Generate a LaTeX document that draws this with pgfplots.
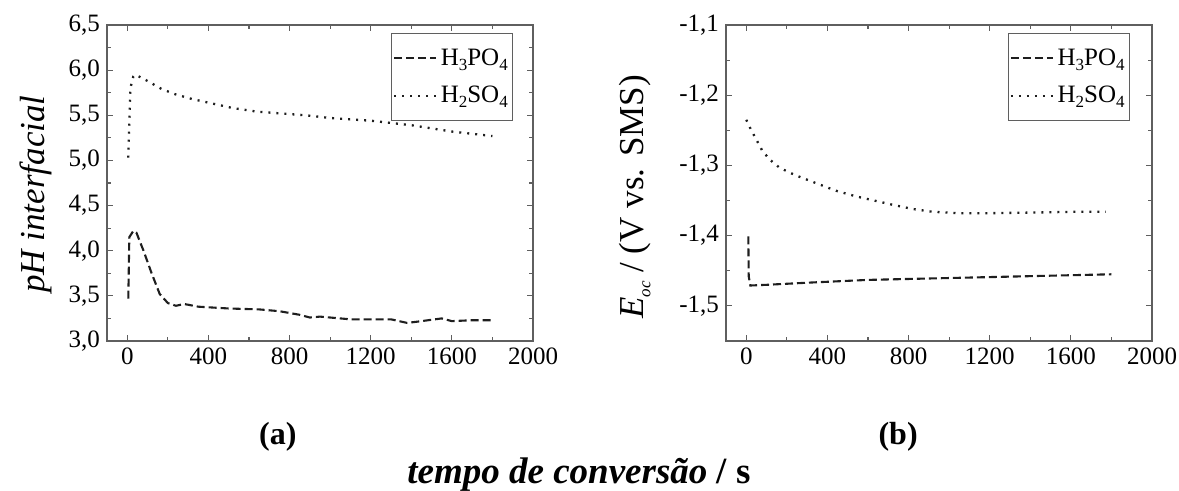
\documentclass[border=0pt]{standalone}
\usepackage{fontspec}
\setmainfont{Liberation Serif}
\usepackage{pgfplots}
\pgfplotsset{compat=1.18}

\definecolor{axgray}{RGB}{95,95,95}
\definecolor{ink}{RGB}{30,30,30}

% low-set subscript, as in the original legend
\newcommand{\sub}[1]{\raisebox{-0.45ex}{\fontsize{8.5}{9}\selectfont #1}}

\pgfplotsset{
  panel/.style={
    scale only axis,
    width=213pt, height=158pt,
    xmin=-100, xmax=2000,
    xtick={0,400,...,2000}, minor x tick num=1,
    minor y tick num=1,
    tick align=inside,
    major tick length=3pt, minor tick length=2pt,
    axis line style={draw=axgray, line width=0.8pt},
    every tick/.style={draw=axgray, line width=0.6pt},
    tick label style={font=\fontsize{12.5}{15}\selectfont},
    /pgf/number format/assume math mode=true,
    /pgf/number format/1000 sep={},
    yticklabel style={/pgf/number format/.cd, fixed, fixed zerofill, precision=1, use comma},
    ylabel style={font=\fontsize{17.5}{20}\selectfont, anchor=center},
    xlabel style={font=\bfseries\fontsize{16}{19}\selectfont, anchor=center},
    legend cell align=left,
    legend style={draw=axgray, line width=0.6pt, anchor=north east,
      font=\fontsize{12.5}{15}\selectfont, inner xsep=0.5pt, inner ysep=5.5pt,
      row sep=5pt, nodes={inner xsep=1.8pt}},
    legend image code/.code={\draw[#1] (0pt,0pt) -- (21pt,0pt);},
  },
  dashl/.style={ink, line width=1.05pt, dash pattern=on 4pt off 2pt},
  dotl/.style={ink, line width=1.15pt, dash pattern=on 1pt off 3pt},
}

\begin{document}
\begin{tikzpicture}
\useasboundingbox (0,0) rectangle (589.5pt,245.5pt);

% (a) interfacial pH
\begin{axis}[panel,
  at={(53.5pt,75pt)}, anchor=south west,
  ymin=3, ymax=6.5, ytick={3,3.5,...,6.5},
  ylabel={\textit{pH interfacial}},
  ylabel style={at={(axis description cs:-0.167,0.465)}},
  xlabel={(a)},
  xlabel style={at={(axis description cs:0.401,0)}, yshift=-48pt},
  legend style={at={(0.953,0.975)}},
]
\addplot[dashl] coordinates {
(5,3.47) (10,4.15) (30,4.22) (45,4.2) (80,4.0) (120,3.75) (160,3.52)
(200,3.42) (240,3.39) (280,3.41) (350,3.38) (500,3.36) (650,3.35)
(750,3.33) (850,3.29) (900,3.26) (950,3.27) (1000,3.26) (1100,3.24)
(1200,3.24) (1300,3.24) (1380,3.20) (1450,3.22) (1550,3.25) (1600,3.22)
(1700,3.23) (1800,3.23)
};
\addlegendentry{H\sub{3}PO\sub{4}}
\addplot[dotl] coordinates {
(5,5.03) (15,5.8) (30,5.93) (40,5.95) (100,5.88) (170,5.79) (240,5.73)
(320,5.68) (400,5.64) (520,5.58) (640,5.54) (760,5.52) (880,5.50)
(1000,5.47) (1130,5.45) (1200,5.44) (1400,5.39) (1600,5.32) (1800,5.27)
};
\addlegendentry{H\sub{2}SO\sub{4}}
\end{axis}

% (b) open circuit potential
\begin{axis}[panel,
  at={(363pt,75pt)}, anchor=south west,
  ymin=-1.55, ymax=-1.1, ytick={-1.5,-1.4,-1.3,-1.2,-1.1},
  ylabel={\textit{E}\sub{\textit{oc}} / (V vs. SMS)},
  ylabel style={at={(axis description cs:-0.214,0.456)}},
  xlabel={(b)},
  xlabel style={at={(axis description cs:0.404,0)}, yshift=-48pt},
  legend style={at={(0.948,0.975)}},
]
\addplot[dashl] coordinates {
(10,-1.401) (12,-1.458) (20,-1.471) (100,-1.470) (300,-1.467) (600,-1.463)
(900,-1.461) (1200,-1.459) (1500,-1.457) (1800,-1.455)
};
\addlegendentry{H\sub{3}PO\sub{4}}
\addplot[dotl] coordinates {
(0,-1.235) (23,-1.249) (51,-1.264) (77,-1.278) (113,-1.291) (163,-1.303)
(212,-1.310) (261,-1.316) (351,-1.326) (442,-1.336) (540,-1.344)
(631,-1.350) (721,-1.356) (820,-1.362) (918,-1.366) (1049,-1.368)
(1200,-1.368) (1433,-1.367) (1620,-1.366) (1772,-1.366)
};
\addlegendentry{H\sub{2}SO\sub{4}}
\end{axis}

\node[font=\bfseries\fontsize{18.5}{22}\selectfont] at (289.5pt,8pt)
  {\textit{tempo de conversão} / s};
\end{tikzpicture}
\end{document}
